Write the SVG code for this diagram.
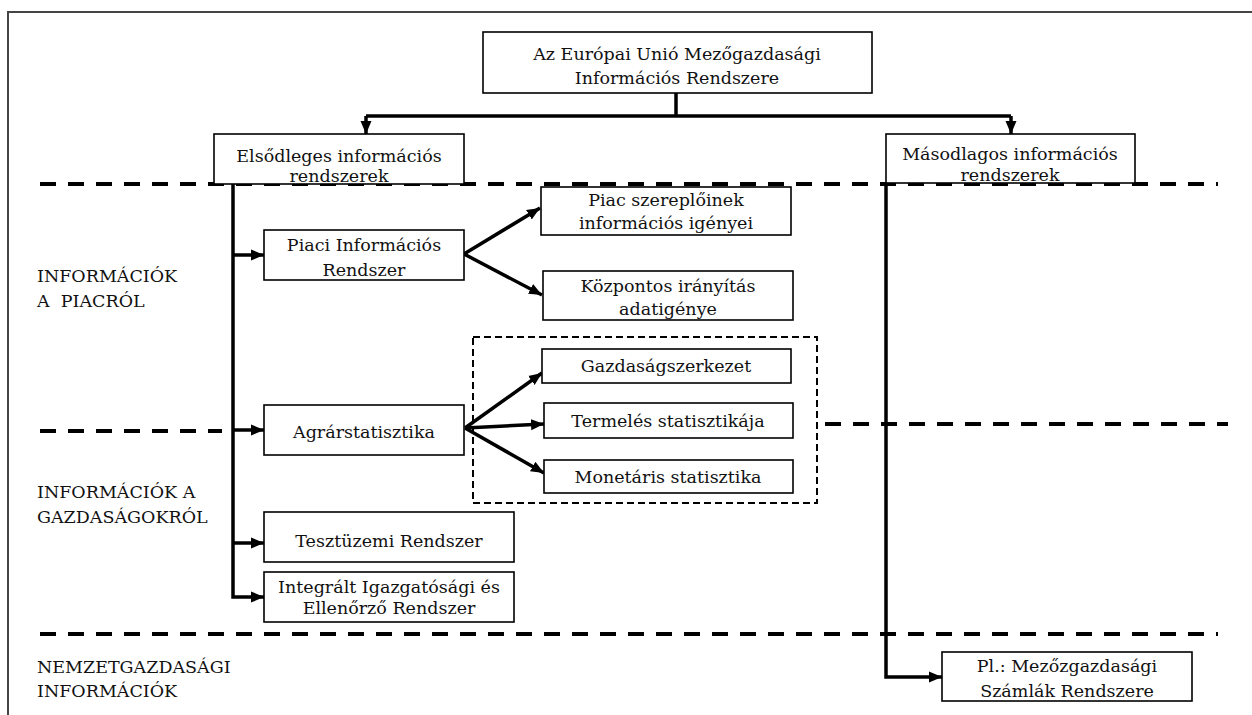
<svg xmlns="http://www.w3.org/2000/svg" width="1252" height="715" viewBox="0 0 1252 715">
<style>
.box{fill:#fff;stroke:#000;stroke-width:1.6}
.t{font-family:"DejaVu Serif","Liberation Serif",serif;font-size:17.5px;fill:#111;text-anchor:middle}
.lab{font-family:"DejaVu Serif","Liberation Serif",serif;font-size:17.5px;fill:#111}
.sep{stroke:#000;stroke-width:4;stroke-dasharray:16 12;fill:none}
.con{stroke:#000;stroke-width:3.5;fill:none}
</style>
<defs>
<marker id="ah" markerUnits="userSpaceOnUse" markerWidth="14" markerHeight="14" viewBox="0 0 14 14" refX="13" refY="7" orient="auto">
<path d="M0,1.5 L13,7 L0,12.5 Z" fill="#000"/>
</marker>
</defs>
<path d="M8,715 V12 H1252" fill="none" stroke="#444" stroke-width="2"/>
<g id="separators">
<line class="sep" x1="40" y1="184" x2="1218" y2="184"/>
<line class="sep" x1="40" y1="431" x2="222" y2="431"/>
<line class="sep" x1="825" y1="424" x2="1228" y2="424"/>
<line class="sep" x1="40" y1="634" x2="1218" y2="634"/>
</g>
<g id="labels">
<text class="lab" x="37" y="282">INFORMÁCIÓK</text>
<text class="lab" x="37" y="307" xml:space="preserve">A  PIACRÓL</text>
<text class="lab" x="37" y="498">INFORMÁCIÓK A</text>
<text class="lab" x="37" y="523">GAZDASÁGOKRÓL</text>
<text class="lab" x="37" y="673">NEMZETGAZDASÁGI</text>
<text class="lab" x="37" y="697">INFORMÁCIÓK</text>
</g>
<g id="group-box">
<rect x="473" y="337" width="344" height="166" fill="none" stroke="#000" stroke-width="2" stroke-dasharray="7 4"/>
</g>
<g id="connectors">
<path class="con" d="M676,93 V116"/>
<path class="con" d="M366,116 H1011"/>
<path class="con" d="M366,116 V134" marker-end="url(#ah)"/>
<path class="con" d="M1011,116 V134" marker-end="url(#ah)"/>
<path class="con" d="M233,184 V597 H264" marker-end="url(#ah)"/>
<path class="con" d="M233,255 H264" marker-end="url(#ah)"/>
<path class="con" d="M233,430 H264" marker-end="url(#ah)"/>
<path class="con" d="M233,543 H264" marker-end="url(#ah)"/>
<path class="con" d="M464,254 L540,208" marker-end="url(#ah)"/>
<path class="con" d="M464,254 L542,295" marker-end="url(#ah)"/>
<path class="con" d="M465,428 L542,373" marker-end="url(#ah)"/>
<path class="con" d="M465,428 L544,424" marker-end="url(#ah)"/>
<path class="con" d="M465,428 L544,473" marker-end="url(#ah)"/>
<path class="con" d="M886,183 V677 H942" marker-end="url(#ah)"/>
</g>
<g id="n-eu">
<rect class="box" x="483" y="32" width="389" height="61"/>
<text class="t" x="677" y="60">Az Európai Unió Mezőgazdasági</text>
<text class="t" x="677" y="84">Információs Rendszere</text>
</g>
<g id="n-primary">
<rect class="box" x="214" y="134" width="250" height="50"/>
<text class="t" x="339" y="162">Elsődleges információs</text>
<text class="t" x="339" y="182">rendszerek</text>
</g>
<g id="n-secondary">
<rect class="box" x="886" y="134" width="249" height="49"/>
<text class="t" x="1010" y="160">Másodlagos információs</text>
<text class="t" x="1010" y="181">rendszerek</text>
</g>
<g id="n-piaci">
<rect class="box" x="264" y="230" width="200" height="50"/>
<text class="t" x="364" y="251">Piaci Információs</text>
<text class="t" x="364" y="276">Rendszer</text>
</g>
<g id="n-piac-szereplok">
<rect class="box" x="541" y="187" width="250" height="48"/>
<text class="t" x="666" y="206">Piac szereplőinek</text>
<text class="t" x="666" y="229">információs igényei</text>
</g>
<g id="n-kozpontos">
<rect class="box" x="543" y="271" width="250" height="49"/>
<text class="t" x="668" y="292">Központos irányítás</text>
<text class="t" x="668" y="315">adatigénye</text>
</g>
<g id="n-agrar">
<rect class="box" x="264" y="405" width="200" height="50"/>
<text class="t" x="364" y="438">Agrárstatisztika</text>
</g>
<g id="n-gazdasag">
<rect class="box" x="542" y="349" width="249" height="34"/>
<text class="t" x="666" y="372">Gazdaságszerkezet</text>
</g>
<g id="n-termeles">
<rect class="box" x="544" y="403" width="249" height="35"/>
<text class="t" x="668" y="427">Termelés statisztikája</text>
</g>
<g id="n-monetaris">
<rect class="box" x="544" y="460" width="249" height="33"/>
<text class="t" x="668" y="483">Monetáris statisztika</text>
</g>
<g id="n-teszt">
<rect class="box" x="264" y="512" width="250" height="50"/>
<text class="t" x="389" y="547">Tesztüzemi Rendszer</text>
</g>
<g id="n-integralt">
<rect class="box" x="264" y="572" width="250" height="50"/>
<text class="t" x="389" y="593">Integrált Igazgatósági és</text>
<text class="t" x="389" y="614">Ellenőrző Rendszer</text>
</g>
<g id="n-szamlak">
<rect class="box" x="942" y="652" width="250" height="49"/>
<text class="t" x="1067" y="672">Pl.: Mezőzgazdasági</text>
<text class="t" x="1067" y="697">Számlák Rendszere</text>
</g>
</svg>
